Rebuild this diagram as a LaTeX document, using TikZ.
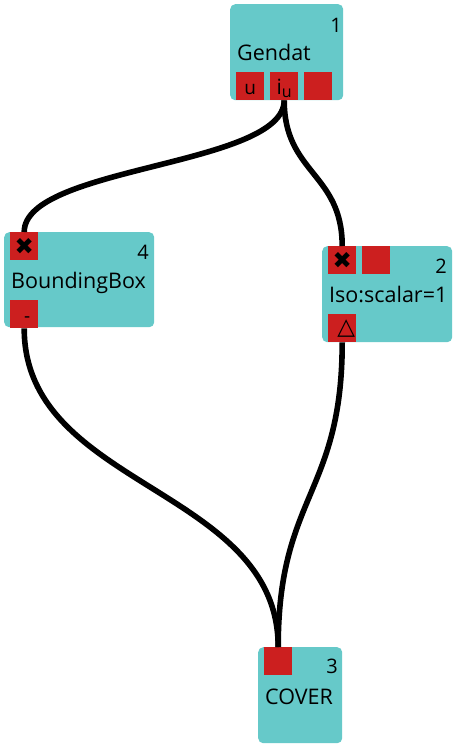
\documentclass[tikz,border=0pt]{standalone}
\usepackage{fontspec}
\setmainfont{Open Sans}
\newfontfamily\symfont{DejaVu Sans}
\definecolor{boxteal}{RGB}{102,201,201}
\definecolor{portred}{RGB}{204,31,31}

\begin{document}
\begin{tikzpicture}[x=1pt,y=-1pt,
    block/.style={fill=boxteal, rounded corners=5pt, anchor=north west, inner sep=0pt},
    port/.style={fill=portred, anchor=north west, minimum size=28pt, inner sep=0pt},
    portchar/.style={port, text height=16pt, text depth=0pt, font=\fontsize{19}{19}\selectfont},
    title/.style={anchor=base west, inner sep=0pt, font=\fontsize{21.5}{22}\selectfont},
    num/.style={anchor=base east, inner sep=0pt, font=\fontsize{20}{20}\selectfont},
    wire/.style={line width=5.6pt}]
\fill[white] (0,0) rectangle (456,748);
\useasboundingbox (0,0) rectangle (456,748);

% Blocks
\node[block, minimum width=113pt, minimum height=96pt] (gendat) at (230,4) {};
\node[block, minimum width=150pt, minimum height=95pt] (bbox) at (4,232) {};
\node[block, minimum width=130pt, minimum height=96pt] (iso) at (322,246) {};
\node[block, minimum width=84pt, minimum height=96pt] (cover) at (258,647) {};

% Titles and numbers
\node[title] (gendat-title) at (237,60) {Gendat};
\node[num] (gendat-num) at (342,32) {1};
\node[title] (bbox-title) at (11,288) {BoundingBox};
\node[num] (bbox-num) at (149,259) {4};
\node[title] (iso-title) at (329,302) {Iso:scalar=1};
\node[num] (iso-num) at (447,273) {2};
\node[title] (cover-title) at (265,704) {COVER};
\node[num] (cover-num) at (338,673) {3};

% Ports
\node[portchar] (gendat-u) at (236,72) {u};
\node[portchar] (gendat-iu) at (270,72) {\fontsize{21}{21}\selectfont i\raisebox{-3pt}{\fontsize{16}{16}\selectfont u}};
\node[port] (gendat-p3) at (304,72) {};
\node[port] (bbox-in) at (10,232) {\raisebox{-3pt}{\symfont\fontsize{23}{23}\selectfont ✖}};
\node[portchar] (bbox-out) at (10,300) {\hspace{6pt}-};
\node[port] (iso-in) at (328,246) {\raisebox{-3pt}{\symfont\fontsize{23}{23}\selectfont ✖}};
\node[port] (iso-p2) at (362,246) {};
\node[port] (iso-out) at (328,314) {\hspace{8pt}\raisebox{-1pt}{\symfont\fontsize{23}{23}\selectfont △}};
\node[port] (cover-in) at (264,647) {};

% Wires between ports
\draw[wire] (gendat-iu.south) .. controls +(0,66) and +(0,-66) .. (bbox-in.north);
\draw[wire] (gendat-iu.south) .. controls +(0,73) and +(0,-73) .. (iso-in.north);
\draw[wire] (bbox-out.south) .. controls +(0,160) and +(0,-160) .. (cover-in.north);
\draw[wire] (iso-out.south) .. controls +(0,152) and +(0,-152) .. (cover-in.north);
\end{tikzpicture}
\end{document}
